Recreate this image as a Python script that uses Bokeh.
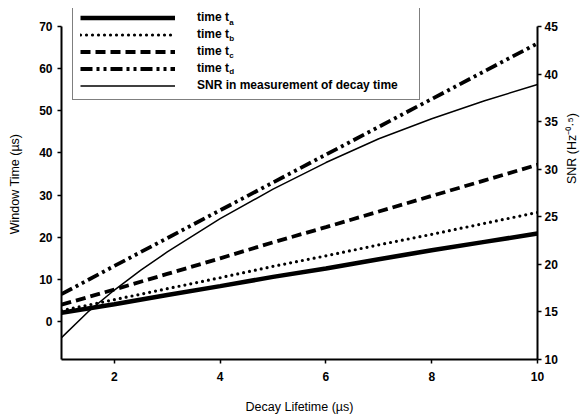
import math
from bokeh.plotting import figure
from bokeh.models import Range1d, LinearAxis, FixedTicker, Legend, LegendItem
from bokeh.core.properties import value
from bokeh.embed import file_html
from bokeh.resources import INLINE

# ---- data ----
tau = [1, 2, 3, 4, 5, 6, 7, 8, 9, 10]
time_a = [2.1, 4.1, 6.3, 8.4, 10.6, 12.6, 14.8, 16.9, 18.9, 20.9]
time_b = [2.6, 5.2, 7.8, 10.4, 13.1, 15.6, 18.2, 20.7, 23.3, 25.9]
time_c = [4.0, 7.6, 11.3, 15.0, 18.8, 22.4, 26.1, 29.8, 33.5, 37.2]
time_d = [6.5, 13.2, 19.8, 26.4, 33.0, 39.6, 46.2, 52.8, 59.4, 66.0]
tau_snr = [1, 1.5, 2, 2.5, 3, 4, 5, 6, 7, 8, 9, 10]
snr = [12.3, 15.0, 17.3, 19.4, 21.3, 24.8, 27.9, 30.7, 33.2, 35.3, 37.2, 38.9]

x_ticks = [2, 4, 6, 8, 10]
left_ticks = [0, 10, 20, 30, 40, 50, 60, 70]
right_ticks = [10, 15, 20, 25, 30, 35, 40, 45]
legend_labels = ["time t", "time t", "time t", "time t", "SNR in measurement of decay time"]
subscripts = ["a", "b", "c", "d"]

FONT = "Liberation Sans"

# ---- layout (canvas pixels) ----
W, H = 588, 417
F_LEFT, F_RIGHT, F_TOP, F_BOTTOM = 61, 538, 8, 359
AX_TOP = 26  # where the axes (70 / 45) end
X0, X1 = 1, 10
YL0, YL1 = -9, 70
YR0, YR1 = 10, 45
left_top = YL1 + (AX_TOP - F_TOP) * (YL1 - YL0) / (F_BOTTOM - AX_TOP)
right_top = YR1 + (AX_TOP - F_TOP) * (YR1 - YR0) / (F_BOTTOM - AX_TOP)

p = figure(width=W, height=H, x_range=Range1d(X0, X1), y_range=Range1d(YL0, left_top),
           output_backend="svg", toolbar_location=None,
           min_border_left=F_LEFT, min_border_right=W - F_RIGHT,
           min_border_top=F_TOP, min_border_bottom=H - F_BOTTOM)
p.outline_line_color = None
p.xgrid.visible = False
p.ygrid.visible = False
p.background_fill_color = "white"
p.border_fill_color = "white"

p.extra_y_ranges = {"snr": Range1d(YR0, right_top)}
right_axis = LinearAxis(y_range_name="snr")
p.add_layout(right_axis, "right")

def style_axis(ax, ticks):
    ax.ticker = FixedTicker(ticks=ticks)
    ax.minor_tick_line_color = None
    ax.major_tick_in = 0
    ax.major_tick_out = 4
    ax.major_tick_line_width = 1.5
    ax.axis_line_width = 2
    ax.axis_line_color = "black"
    ax.major_tick_line_color = "black"
    ax.major_label_text_font = FONT
    ax.major_label_text_font_style = "bold"
    ax.major_label_text_font_size = "12px"
    ax.major_label_text_color = "black"
    ax.axis_label_text_font = FONT
    ax.axis_label_text_font_style = "normal"
    ax.axis_label_text_font_size = "12.5px"
    ax.axis_label_text_color = "black"

style_axis(p.xaxis[0], x_ticks)
style_axis(p.yaxis[0], left_ticks)
style_axis(right_axis, right_ticks)
p.yaxis[0].bounds = (YL0, YL1)
right_axis.bounds = (YR0, YR1)

p.xaxis[0].axis_label = "Decay Lifetime (µs)"
p.xaxis[0].major_label_standoff = 8
p.xaxis[0].axis_label_standoff = 16
p.yaxis[0].axis_label = "Window Time (µs)"
p.yaxis[0].major_label_standoff = 5
p.yaxis[0].axis_label_standoff = 14
right_axis.axis_label = "SNR (Hz⁻⁰·⁵)"
right_axis.axis_label_orientation = math.pi / 2
right_axis.major_label_standoff = 3
right_axis.axis_label_standoff = 11

ra = p.line(tau, time_a, line_color="black", line_width=4.5)
rb = p.line(tau, time_b, line_color="black", line_width=3.2, line_dash="0 6", line_cap="round")
rc = p.line(tau, time_c, line_color="black", line_width=3.8, line_dash="10 5")
rd = p.line(tau, time_d, line_color="black", line_width=3.8, line_dash="12 4 3 4 3 4")
rs = p.line(tau_snr, snr, line_color="black", line_width=1.5, y_range_name="snr")

# legend box: canvas left 72, top 9 (no data line crosses it, so no fill needed)
PAD, SPACING, ROW_H = 7, 3, 13
n = len(legend_labels)
leg_h = 2 * PAD + n * ROW_H + (n - 1) * SPACING
leg_left, leg_top = 72, 9
renderers = [ra, rb, rc, rd, rs]
items = [LegendItem(label=lab, renderers=[r]) for lab, r in zip(legend_labels, renderers)]
legend = Legend(items=items, location=(leg_left - F_LEFT, F_BOTTOM - leg_top - leg_h),
                padding=PAD, spacing=SPACING, glyph_height=ROW_H, label_height=ROW_H,
                glyph_width=95, label_standoff=22, label_width=215, margin=0,
                border_line_color="black", border_line_width=1.3,
                background_fill_alpha=0.0,
                label_text_font=FONT, label_text_font_style="bold",
                label_text_font_size="12px", label_text_color="black")
p.add_layout(legend, "center")

def to_data(cx, cy):
    x = X0 + (cx - F_LEFT) * (X1 - X0) / (F_RIGHT - F_LEFT)
    y = left_top - (cy - F_TOP) * (left_top - YL0) / (F_BOTTOM - F_TOP)
    return x, y

label_x = leg_left + PAD + 95 + 22
sub_x, sub_y = [], []
for i in range(len(subscripts)):
    row_cy = leg_top + 8.5 + i * 16.6  # observed legend row centres
    dx, dy = to_data(label_x + 33, row_cy + 4)
    sub_x.append(dx)
    sub_y.append(dy)
p.text(x=sub_x, y=sub_y, text=subscripts, text_font=value(FONT), text_font_style="bold",
       text_font_size="8px", text_baseline="middle", text_align="left",
       text_color="black")

open("out.html", "w").write(file_html(p, INLINE))
